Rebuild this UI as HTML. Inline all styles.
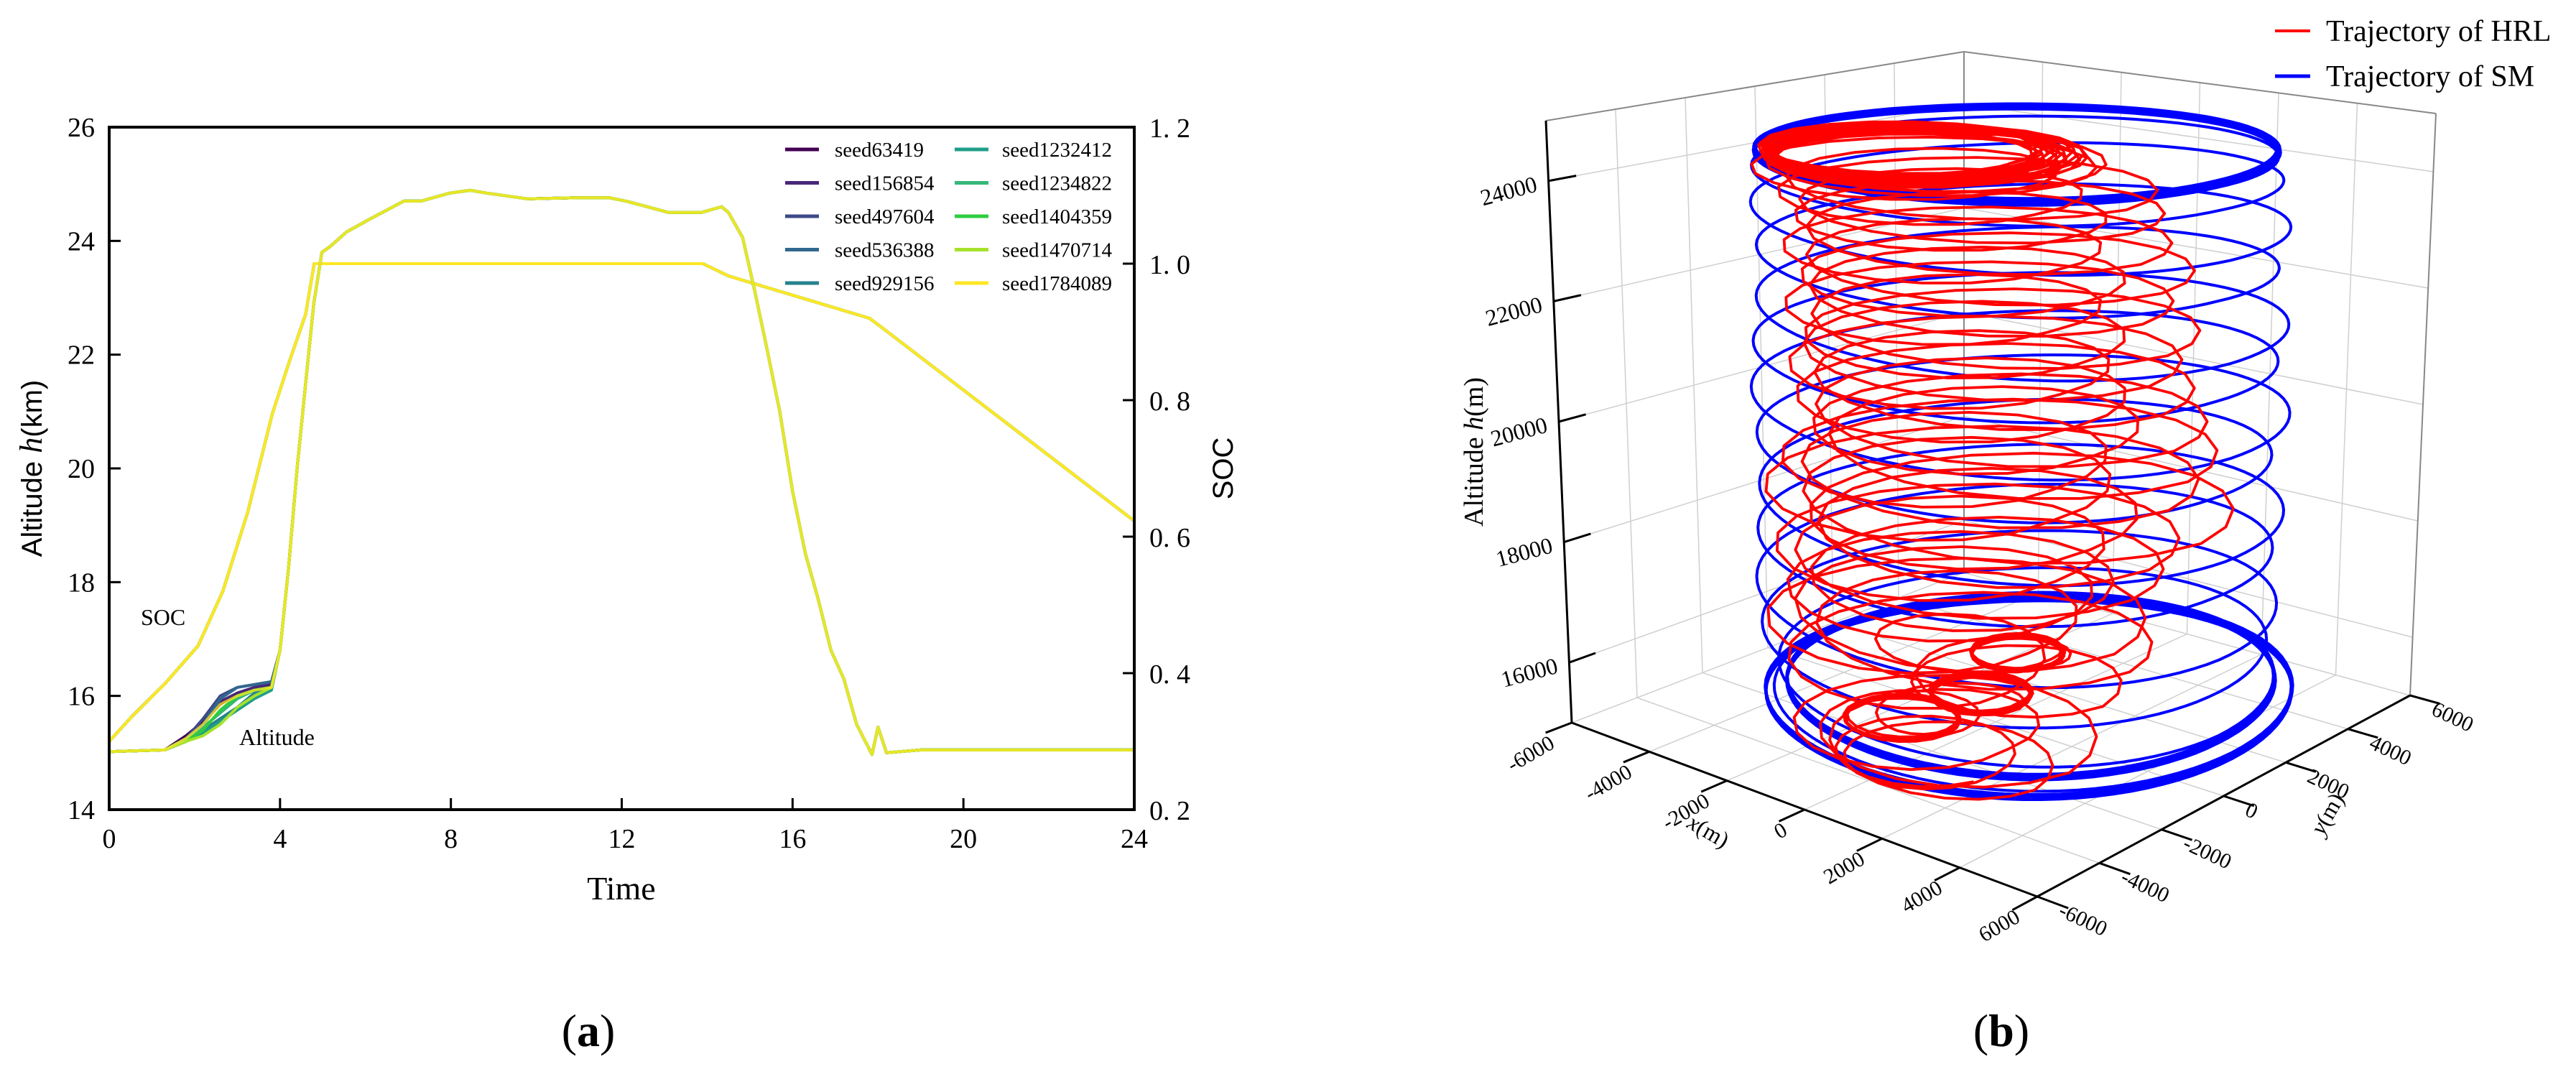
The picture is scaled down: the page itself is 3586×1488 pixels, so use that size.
<!DOCTYPE html>
<html><head><meta charset="utf-8"><style>
html,body{margin:0;padding:0;background:#fff;}
svg{display:block;}
.serif{font-family:"Liberation Serif","Noto Serif CJK SC",serif;}
.sans{font-family:"Liberation Sans","Noto Sans CJK SC",sans-serif;}
</style></head><body>
<svg id="fig" width="3586" height="1488" viewBox="0 0 3586 1488" xmlns="http://www.w3.org/2000/svg">
<rect x="0" y="0" width="3586" height="1488" fill="#fff"/>
<g id="chartA"></g>
<g id="chartB"></g>
<text x="819" y="1456" class="serif" font-size="64" text-anchor="middle">(<tspan font-weight="bold">a</tspan>)</text>
<text x="2786" y="1456" class="serif" font-size="64" text-anchor="middle">(<tspan font-weight="bold">b</tspan>)</text>
</svg>
<script>
// ---------- Chart A data ----------
const seedNames = ["seed63419","seed156854","seed497604","seed536388","seed929156","seed1232412","seed1234822","seed1404359","seed1470714","seed1784089"];
const seedColors = ["#440154","#482878","#3e4989","#31688e","#26828e","#1f9e89","#35b779","#2ecc40","#a6e22b","#fde725"];
const earlyT = [1.3,1.8,2.2,2.6,3.0,3.4,3.8];
const earlyAlt = [
 [15.05,15.3,15.55,15.85,16.05,16.15,16.2],
 [15.05,15.25,15.5,15.9,16.05,16.15,16.2],
 [15.05,15.25,15.6,16.0,16.15,16.2,16.25],
 [15.05,15.2,15.5,15.95,16.15,16.2,16.25],
 [15.05,15.2,15.4,15.6,15.8,16.05,16.15],
 [15.05,15.2,15.35,15.55,15.75,15.95,16.1],
 [15.05,15.25,15.45,15.7,15.95,16.1,16.15],
 [15.05,15.2,15.4,15.75,16.0,16.1,16.15],
 [15.05,15.2,15.3,15.5,15.8,16.0,16.15],
 [15.05,15.25,15.5,15.85,16.0,16.1,16.15]
];
const mainT = [4.0,4.2,4.4,4.6,4.79,4.98,5.17,5.56,6.14,6.9,7.3,7.97,8.45,8.84,9.8,10.96,11.7,12.1,13.1,13.86,14.34,14.5,14.83,15.12,15.4,15.7,16.0,16.3,16.6,16.9,17.2,17.5,17.86,18.0,18.2,19,24];
const mainAlt = [16.8,18.25,20.0,21.5,22.9,23.8,23.9,24.16,24.4,24.7,24.7,24.84,24.89,24.84,24.74,24.76,24.76,24.7,24.5,24.5,24.6,24.5,24.06,23.1,22.1,21.0,19.6,18.5,17.7,16.8,16.3,15.5,14.97,15.45,15.0,15.05,15.05];
const socT = [0,0.54,1.31,2.08,2.66,3.24,3.82,4.2,4.6,4.8,13.9,14.5,17.8,18.1,24];
const socV = [0.30,0.337,0.385,0.44,0.52,0.635,0.78,0.853,0.926,1.0,1.0,0.982,0.92,0.906,0.623];
const xTicks = [0,4,8,12,16,20,24];
const yTicks = [14,16,18,20,22,24,26];
const y2Ticks = [0.2,0.4,0.6,0.8,1.0,1.2];
const y2Labels = ["0. 2","0. 4","0. 6","0. 8","1. 0","1. 2"];

// ---------- Chart B data ----------
const hrlZ = [24640,24620,24600,24590,24580,24570,24560,24550,24540,24530,24520,24510,24500,24480,24460,24440,24420,24400,24380,24350,
 24200,24000,23800,23600,23400,23150,22900,22650,22400,22150,21900,21650,21400,21150,20900,20650,20400,20150,19900,19650,19400,19150,18900,18650,18400,18150,17900,17650,17400,17150,
 16900,16700,16500,16350,16250,16200,16180,16160,16150,16140,16050,15950,15920,15900,15880,15860,15850,15800,15780,15760,15750,15740,15730,15720,15600,15450,15350,15300];
const hrlX = [-1200,-1100,-1000,-1300,-900,-1100,-1200,-800,-1000,-1100,-900,-700,-1300,-1000,-800,-1200,-900,-1100,-600,-800,
 -1300,200,-1200,300,-900,500,-1100,600,-700,400,-1200,700,-800,300,-1000,500,-900,800,-600,900,-1300,600,-1500,1000,-800,400,-1400,200,-600,-1000,
 0,-1500,500,-1000,390,400,380,390,400,390,800,650,640,660,650,655,650,0,20,-20,10,0,-10,0,1000,-500,1500,500];
const hrlY = [-1400,-1300,-1200,-1500,-1100,-1300,-1400,-1000,-1200,-1300,-1100,-900,-1500,-1200,-1000,-1400,-1100,-1300,-800,-1000,
 -1400,-400,-1000,-200,-700,-300,-900,100,-600,-100,-800,200,-500,0,-700,300,-600,200,-400,400,-900,300,-1000,600,-300,200,-800,0,-500,-700,
 -500,-1000,0,-2000,200,210,190,200,205,200,-600,-1240,-1230,-1250,-1240,-1245,-1240,-2920,-2900,-2940,-2920,-2930,-2910,-2920,-2500,-2000,-3000,-2800];
const hrlR = [2700,2750,2800,2650,2900,2700,2600,3000,2800,2750,2900,3000,2600,2850,2950,2700,2800,2750,3100,3300,
 2800,3400,3000,3300,3100,3400,3200,3500,3300,3400,3200,3500,3300,3600,3200,3500,3400,3600,3300,3700,3500,3600,3700,3800,3500,3400,3600,3300,3200,3000,
 3500,3200,3000,3000,900,950,920,880,940,900,2500,1000,1050,980,1020,1000,1010,1150,1100,1200,1120,1180,1100,1150,3000,2500,2000,1800];
const smZ = [24560,24550,24540,24530,24520,24510,24500,24490,24480,24470,24460,24450,
 24100,23400,22600,21800,21000,20300,19500,18700,17900,17100,16400,
 15800,15760,15740,15720,15700,15680,15520,15500,15480,15460,15440,15420];
const smX = [300,300,300,300,300,300,300,300,300,300,300,300,
 300,700,200,800,100,700,300,800,200,600,400,
 700,700,700,700,700,700,500,500,500,500,500,500];
const smY = [300,300,300,300,300,300,300,300,300,300,300,300,
 300,0,500,-100,500,0,300,-100,400,0,200,
 300,300,300,300,300,300,500,500,500,500,500,500];
const smR = [5000,4960,5040,4980,5020,5000,4950,5050,5000,4970,5030,5000,
 5100,5200,5000,5200,5100,5300,5000,5200,5100,5200,5000,
 4900,4880,4920,4900,4910,4890,5300,5320,5280,5310,5290,5300];
const zTicks = [16000,18000,20000,22000,24000];
const xyTicks = [-6000,-4000,-2000,0,2000,4000,6000];

const NS = "http://www.w3.org/2000/svg";
function mk(parent, tag, attrs, txt){
  const e = document.createElementNS(NS, tag);
  for (const k in attrs) e.setAttribute(k, attrs[k]);
  if (txt !== undefined) e.textContent = txt;
  parent.appendChild(e);
  return e;
}

// ---------- Chart A ----------
(function(){
  const g = document.getElementById("chartA");
  const L=152, R=1579, T=177, B=1127;
  const sx = t => L + (t-0)/(24-0)*(R-L);
  const sy = a => B - (a-14)/(26-14)*(B-T);
  const sy2 = v => B - (v-0.2)/(1.2-0.2)*(B-T);

  for (let i=0;i<seedNames.length;i++){
    const p = mk(g,"polyline",{points:socT.map((t,j)=>sx(t).toFixed(1)+","+sy2(socV[j]).toFixed(1)).join(" "),fill:"none",stroke:seedColors[i],"stroke-width":4,"stroke-linejoin":"round"});
    
    
  }
  for (let i=0;i<seedNames.length;i++){
    const pts = [[0,15.02]].concat(earlyT.map((t,j)=>[t,earlyAlt[i][j]])).concat(mainT.map((t,j)=>[t,mainAlt[j]]));
    const p = mk(g,"polyline",{points:pts.map(q=>sx(q[0]).toFixed(1)+","+sy(q[1]).toFixed(1)).join(" "),fill:"none",stroke:seedColors[i],"stroke-width":4,"stroke-linejoin":"round","stroke-opacity":i===9?0.75:1});
    
    
  }
  const f = mk(g,"rect",{x:L,y:T,width:R-L,height:B-T,fill:"none",stroke:"#000","stroke-width":4});
  
  
  xTicks.forEach(t=>{
    const tk = mk(g,"line",{x1:sx(t),y1:B,x2:sx(t),y2:B-16,stroke:"#000","stroke-width":3});
    
    
    const lb = mk(g,"text",{x:sx(t),y:1180,"font-size":38,"text-anchor":"middle",class:"serif"},String(t));
    
    
  });
  yTicks.forEach(a=>{
    const tk = mk(g,"line",{x1:L,y1:sy(a),x2:L+16,y2:sy(a),stroke:"#000","stroke-width":3});
    
    
    const lb = mk(g,"text",{x:132,y:sy(a)+13,"font-size":38,"text-anchor":"end",class:"serif"},String(a));
    
    
  });
  y2Ticks.forEach((v,i)=>{
    const tk = mk(g,"line",{x1:R,y1:sy2(v),x2:R-16,y2:sy2(v),stroke:"#000","stroke-width":3});
    
    
    const lb = mk(g,"text",{x:1600,y:sy2(v)+14,"font-size":38,class:"serif"},y2Labels[i]);
    
    
  });
  const xt = mk(g,"text",{x:865,y:1252,"font-size":46,"text-anchor":"middle",class:"serif"},"Time");
  
  
  const yt = mk(g,"text",{x:0,y:0,"font-size":40,"text-anchor":"middle",class:"sans",transform:"translate(58,652) rotate(-90)"});
  
  
  mk(yt,"tspan",{},"Altitude ");
  mk(yt,"tspan",{"font-style":"italic","font-family":"Liberation Serif, serif","font-size":44},"h");
  mk(yt,"tspan",{},"(km)");
  const y2t = mk(g,"text",{x:0,y:0,"font-size":40,"text-anchor":"middle",class:"sans",transform:"translate(1716,652) rotate(-90)"},"SOC");
  
  
  const a1 = mk(g,"text",{x:196,y:870,"font-size":32,class:"serif"},"SOC");
  
  
  const a2 = mk(g,"text",{x:333,y:1037,"font-size":32,class:"serif"},"Altitude");
  
  
  const lg = mk(g,"g",{});
  
  
  seedNames.forEach((n,i)=>{
    const col = Math.floor(i/5), row = i%5;
    const lx = col===0 ? 1093 : 1329, tx = col===0 ? 1162 : 1395, yy = 208 + row*46.5;
    const ent = mk(lg,"g",{});
    
    
    mk(ent,"line",{x1:lx,y1:yy,x2:lx+47,y2:yy,stroke:seedColors[i],"stroke-width":5});
    mk(ent,"text",{x:tx,y:yy+10,"font-size":29,class:"serif"},n);
  });
})();

// ---------- Chart B ----------
(function(){
  const g = document.getElementById("chartB");
  const FL=[2188,1006], FF=[2836,1248], FR=[3355,968], FB=[2734,797];
  const TL=[2152,168], TF=[2836,285], TR=[3391,158], TB=[2734,72];
  function bil(C0,C1,C2,C3,u,v){
    return [C0[0]*(1-u)*(1-v)+C1[0]*u*(1-v)+C2[0]*u*v+C3[0]*(1-u)*v,
            C0[1]*(1-u)*(1-v)+C1[1]*u*(1-v)+C2[1]*u*v+C3[1]*(1-u)*v];
  }
  function proj(x,y,z){
    const u=(x+6000)/12000, v=(y+6000)/12000, w=(z-15000)/10000;
    const a=bil(FL,FF,FR,FB,u,v), b=bil(TL,TF,TR,TB,u,v);
    return [a[0]*(1-w)+b[0]*w, a[1]*(1-w)+b[1]*w];
  }
  const P = (x,y,z)=>{const p=proj(x,y,z);return p[0].toFixed(1)+","+p[1].toFixed(1);};
  function line(par,a,b,stroke,sw,name){
    const e = mk(par,"line",{x1:proj(...a)[0],y1:proj(...a)[1],x2:proj(...b)[0],y2:proj(...b)[1],stroke:stroke,"stroke-width":sw});
    
    
  }
  const grid = mk(g,"g",{});
  
  
  const gc="#cfcfcf";
  xyTicks.forEach(t=>{
    line(grid,[t,-6000,15000],[t,6000,15000],gc,1.5,'floor-grid-x');
    line(grid,[-6000,t,15000],[6000,t,15000],gc,1.5,'floor-grid-y');
    line(grid,[-6000,t,15000],[-6000,t,25000],gc,1.5,'left-wall-grid');
    line(grid,[t,6000,15000],[t,6000,25000],gc,1.5,'back-wall-grid');
  });
  zTicks.forEach(z=>{
    line(grid,[-6000,-6000,z],[-6000,6000,z],gc,1.5,'left-wall-z-grid');
    line(grid,[-6000,6000,z],[6000,6000,z],gc,1.5,'back-wall-z-grid');
  });
  line(grid,[-6000,6000,15000],[-6000,6000,25000],"#888",2,'back-edge');
  line(grid,[-6000,-6000,25000],[-6000,6000,25000],"#888",2,'top-edge-left');
  line(grid,[-6000,6000,25000],[6000,6000,25000],"#888",2,'top-edge-right');
  line(grid,[6000,6000,15000],[6000,6000,25000],"#888",2,'right-edge');

  function helix(Z,X,Y,Rr,nSeg){
    const pts=[];
    for(let i=0;i<Z.length;i++){
      const j=Math.min(i+1,Z.length-1);
      for(let k=0;k<nSeg;k++){
        const f=k/nSeg, th=2*Math.PI*f;
        const z=Z[i]+(Z[j]-Z[i])*f, cx=X[i]+(X[j]-X[i])*f, cy=Y[i]+(Y[j]-Y[i])*f, r=Rr[i]+(Rr[j]-Rr[i])*f;
        pts.push(P(cx+r*Math.cos(th), cy+r*Math.sin(th), z));
      }
    }
    return pts.join(" ");
  }
  const sm = mk(g,"polyline",{points:helix(smZ,smX,smY,smR,90),fill:"none",stroke:"#0000ff","stroke-width":4,"stroke-linejoin":"round"});
  
  
  const hrl = mk(g,"polyline",{points:helix(hrlZ,hrlX,hrlY,hrlR,20),fill:"none",stroke:"#ff0000","stroke-width":3.8,"stroke-linejoin":"round"});
  
  

  line(g,[-6000,-6000,15000],[-6000,-6000,25000],"#000",3,'z-axis');
  line(g,[-6000,-6000,15000],[6000,-6000,15000],"#000",3,'x-axis');
  line(g,[6000,-6000,15000],[6000,6000,15000],"#000",3,'y-axis');
  zTicks.forEach(z=>{
    line(g,[-6000,-6000,z],[-6000,-5200,z],"#000",3,'z-tick');
  });
  xyTicks.forEach(t=>{
    line(g,[t,-6000,15000],[t,-6800,15000],"#000",3,'x-tick');
    line(g,[6000,t,15000],[6800,t,15000],"#000",3,'y-tick');
  });
  zTicks.forEach(z=>{
    const p=proj(-6000,-6000,z);
    const t=mk(g,"text",{x:0,y:0,"font-size":32,"text-anchor":"end",class:"serif",transform:`translate(${p[0]-14},${p[1]+14}) rotate(-15)`},String(z));
    
    
  });
  xyTicks.forEach(v=>{
    const p=proj(v,-6000,15000);
    const t=mk(g,"text",{x:0,y:0,"font-size":30,"text-anchor":"end",class:"serif",transform:`translate(${p[0]-22},${p[1]+34}) rotate(-30)`},String(v));
    
    
    const q=proj(6000,v,15000);
    const t2=mk(g,"text",{x:0,y:0,"font-size":30,"text-anchor":"start",class:"serif",transform:`translate(${q[0]+28},${q[1]+26}) rotate(25)`},String(v));
    
    
  });
  const xl=mk(g,"text",{x:0,y:0,"font-size":32,"text-anchor":"middle",class:"serif",transform:"translate(2373,1166) rotate(30)"});
  
  
  mk(xl,"tspan",{"font-style":"italic"},"x");
  mk(xl,"tspan",{},"(m)");
  const yl=mk(g,"text",{x:0,y:0,"font-size":32,"text-anchor":"middle",class:"serif",transform:"translate(3249,1138) rotate(-60)"});
  
  
  mk(yl,"tspan",{"font-style":"italic"},"y");
  mk(yl,"tspan",{},"(m)");
  const zl=mk(g,"text",{x:0,y:0,"font-size":38,"text-anchor":"middle",class:"serif",transform:"translate(2064,629) rotate(-90)"});
  
  
  mk(zl,"tspan",{},"Altitude ");
  mk(zl,"tspan",{"font-style":"italic"},"h");
  mk(zl,"tspan",{},"(m)");

  const lg = mk(g,"g",{});
  
  
  const e1 = mk(lg,"g",{});
  
  
  mk(e1,"line",{x1:3167,y1:43,x2:3216,y2:43,stroke:"#ff0000","stroke-width":4});
  mk(e1,"text",{x:3238,y:57,"font-size":42,class:"serif"},"Trajectory of HRL");
  const e2 = mk(lg,"g",{});
  
  
  mk(e2,"line",{x1:3167,y1:106,x2:3216,y2:106,stroke:"#0000ff","stroke-width":5});
  mk(e2,"text",{x:3238,y:120,"font-size":42,class:"serif"},"Trajectory of SM");
})();
</script>
</body></html>
